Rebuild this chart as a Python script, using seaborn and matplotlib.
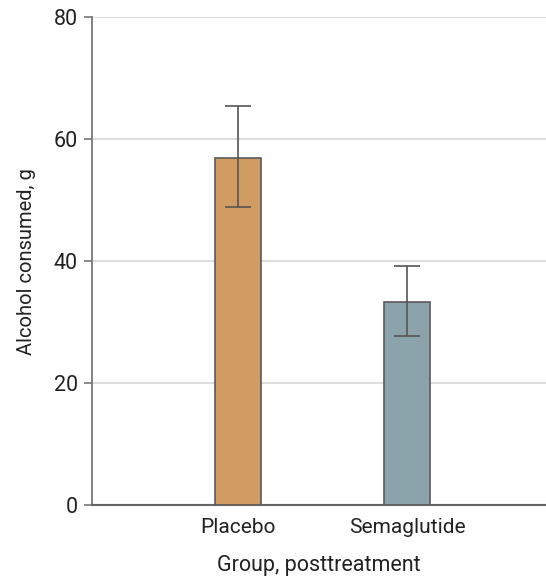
import matplotlib
matplotlib.use("Agg")
import matplotlib.pyplot as plt
import seaborn as sns
import pandas as pd
from matplotlib import font_manager

# Data
groups = ["Placebo", "Semaglutide"]
alcohol_g = [56.9, 33.3]
err_low = [48.9, 27.8]
err_high = [65.5, 39.3]
bar_colors = ["#D09C62", "#8BA4AB"]
yticks = [0, 20, 40, 60, 80]

df = pd.DataFrame({"group": groups, "alcohol": alcohol_g})

sns.set_style("white")
names = {f.name for f in font_manager.fontManager.ttflist}
fam = [f for f in ["Liberation Sans Narrow", "Roboto", "DejaVu Sans"] if f in names]
plt.rcParams["font.family"] = fam

fig = plt.figure(figsize=(5.46, 5.77), dpi=100)
ax = fig.add_axes([0.1685, 0.1243, 0.8315, 0.8457])

sns.barplot(data=df, x="group", y="alcohol", hue="group", palette=bar_colors,
            saturation=1, width=0.272, errorbar=None, edgecolor="#5a5a5a",
            linewidth=1.2, legend=False, ax=ax, zorder=3)

lower = [v - lo for v, lo in zip(alcohol_g, err_low)]
upper = [hi - v for v, hi in zip(alcohol_g, err_high)]
ax.errorbar(range(len(groups)), alcohol_g, yerr=[lower, upper], fmt="none",
            ecolor="#555555", elinewidth=1.2, capsize=9.5, capthick=1.2, zorder=4)

ax.set_ylim(0, 80)
ax.set_xlim(-0.864, 1.822)
ax.set_yticks(yticks)
ax.yaxis.grid(True, color="#dddddd", linewidth=1.5, zorder=0)
ax.set_axisbelow(True)

for s in ["top", "right"]:
    ax.spines[s].set_visible(False)
ax.spines["left"].set_color("#777777")
ax.spines["bottom"].set_color("#666666")
ax.spines["left"].set_linewidth(1.3)
ax.spines["bottom"].set_linewidth(1.5)

ax.tick_params(axis="y", length=6, width=1.2, color="#777777", labelsize=15.5,
               labelcolor="#222222", pad=4, left=True)
ax.tick_params(axis="x", length=0, labelsize=15, labelcolor="#222222", pad=9)

ax.set_xlabel("Group, posttreatment", fontsize=15.5, color="#222222", labelpad=13)
ax.set_ylabel("Alcohol consumed, g", fontsize=14.5, color="#222222", labelpad=13)

fig.savefig("out.png", dpi=100)
